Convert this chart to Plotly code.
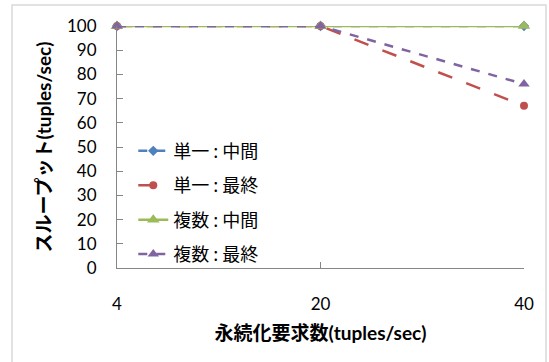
import plotly.graph_objects as go

# Persistence request rate (x categories) and throughput for each configuration
requests = ["4", "20", "40"]
single_mid = [100, 100, 100]
single_final = [100, 100, 67]
multi_mid = [100, 100, 100]
multi_final = [100, 100, 76]

series_names = ["単一 : 中間", "単一 : 最終", "複数 : 中間", "複数 : 最終"]

LATIN = "Lato, 'Noto Sans CJK JP', sans-serif"
CJK = "'Noto Sans CJK JP', sans-serif"

fig = go.Figure()

fig.add_trace(go.Scatter(
    x=requests, y=single_mid, name=series_names[0], legendgroup="a",
    mode="lines+markers",
    line=dict(color="#4F81BD", width=2.5, dash="dash"),
    marker=dict(symbol="diamond", size=8, color="#4F81BD"),
    cliponaxis=False,
))
fig.add_trace(go.Scatter(
    x=requests, y=single_final, name=series_names[1], legendgroup="b",
    mode="lines+markers",
    line=dict(color="#C0504D", width=2.5, dash="longdash"),
    marker=dict(symbol="circle", size=8, color="#C0504D"),
    cliponaxis=False,
))
fig.add_trace(go.Scatter(
    x=requests, y=multi_mid, name=series_names[2], legendgroup="c",
    mode="lines+markers",
    line=dict(color="#9BBB59", width=2.5),
    marker=dict(symbol="triangle-up", size=11, color="#9BBB59"),
    cliponaxis=False,
))
fig.add_trace(go.Scatter(
    x=requests, y=multi_final, name=series_names[3], legendgroup="d",
    mode="lines+markers",
    line=dict(color="#8064A2", width=2.5, dash="dash"),
    marker=dict(symbol="triangle-up", size=10, color="#8064A2"),
    cliponaxis=False,
))

fig.update_layout(
    width=549, height=362,
    margin=dict(l=117, r=25, t=26, b=94),
    paper_bgcolor="white", plot_bgcolor="white",
    showlegend=True,
    legend=dict(
        x=0.04, y=0.27, xanchor="left", yanchor="middle",
        font=dict(family=CJK, size=18, color="#000000"),
        bgcolor="rgba(0,0,0,0)",
        tracegroupgap=8,
        itemwidth=30,
    ),
    font=dict(family=LATIN, color="#000000"),
    shapes=[dict(
        type="rect", xref="paper", yref="paper",
        x0=(12 - 117) / 407, x1=(546 - 117) / 407,
        y0=(268 - 366) / 242, y1=(268 - 5) / 242,
        line=dict(color="#D9D9D9", width=1.5), fillcolor="rgba(0,0,0,0)",
        layer="below",
    )],
)

fig.update_xaxes(
    type="category", range=[0, 2],
    showline=True, linecolor="#868686", linewidth=1.2,
    ticks="inside", ticklen=6, tickcolor="#868686",
    showgrid=False, zeroline=False,
    tickfont=dict(family=LATIN, size=17),
    ticklabelstandoff=20,
    title=dict(text="<b>永続化要求数(tuples/sec)</b>",
               font=dict(family=LATIN, size=19), standoff=14),
)
fig.update_yaxes(
    range=[0, 100], dtick=10,
    showline=True, linecolor="#868686", linewidth=1.2,
    ticks="inside", ticklen=6, tickcolor="#868686",
    showgrid=False, zeroline=False,
    tickfont=dict(family=LATIN, size=17),
    ticklabelstandoff=16,
    title=dict(text="<b>スループット(tuples/sec)</b>",
               font=dict(family=LATIN, size=19), standoff=10),
)

fig.write_html("out.html")
